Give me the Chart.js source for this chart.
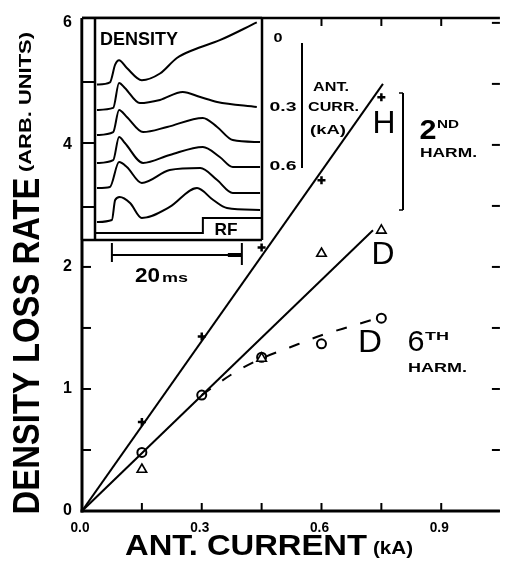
<!DOCTYPE html>
<html>
<head>
<meta charset="utf-8">
<script src="https://cdn.jsdelivr.net/npm/chart.js@4.4.0/dist/chart.umd.min.js"></script>
<style>
  html, body { margin: 0; padding: 0; background: #fff; }
  #wrap { position: relative; width: 507px; height: 567px; }
  canvas { position: absolute; left: 0; top: 0; }
</style>
</head>
<body>
<div id="wrap">
  <canvas id="main" width="507" height="567"></canvas>
  <canvas id="inset" width="507" height="567"></canvas>
</div>
<script>
// main plot: antenna current (kA) vs density loss rate (arb. units)
const currents = [0.15, 0.30, 0.45, 0.60, 0.75];
const hSecond = [0.73, 1.43, 2.16, 2.71, 3.39];     // H, 2nd harm. (+)
const dSecond = [0.34, null, 1.25, 2.11, 2.30];     // D, 2nd harm. (triangles)
const dSixth = [0.48, 0.95, 1.26, 1.37, 1.58];      // D, 6th harm. (circles)

const hFitX = [0, 0.754], hFitY = [0, 3.50];
const dFitX = [0, 0.729], dFitY = [0, 2.30];
const sixthFitX = [0.30, 0.38, 0.45, 0.52, 0.60, 0.68, 0.75];
const sixthFitY = [0.95, 1.13, 1.25, 1.34, 1.44, 1.52, 1.59];

const xTickValues = [0, 0.15, 0.30, 0.45, 0.60, 0.75, 0.90];
const xTickLabels = ['0.0', '', '0.3', '', '0.6', '', '0.9'];
const yTickValues = [0, 0.5, 1, 1.5, 2, 2.5, 3, 3.5, 4];
const yTickLabels = ['0', '', '1', '', '2', '', '4', '', '6'];

// inset: density traces [time (ms), signal] for antenna currents 0 .. 0.6 kA
const trace0 = [[0.3,70],[2.3,71],[3.1,79],[3.7,81],[4.9,77.5],[7.2,72],[10,75],[12.6,82],[15.1,85.6],[19.2,90],[24.9,98]];
const trace1 = [[0.3,58.6],[2.8,59.5],[3.7,70.7],[4.6,68.5],[6.9,61.7],[10,63.1],[13.5,66.7],[16.2,64.4],[18.8,62.2],[24.9,59.9]];
const trace2 = [[0.3,47.3],[2.8,48.6],[3.7,58.6],[4.9,55.4],[7.4,48.6],[11.1,50.9],[16.6,55],[18.8,50.9],[21.2,45],[25.4,44.1]];
const trace3 = [[0.3,34.7],[2.8,36],[3.7,46.4],[4.6,43.7],[7.4,34.7],[11.5,38.3],[16.6,41.9],[19.2,37.4],[21.2,32.9],[25.4,32.9]];
const trace4 = [[0.3,23.4],[2.3,23.9],[3.7,35.1],[4.9,32.9],[7.2,25.7],[11.5,31.5],[16.2,32.4],[18.8,27],[21.2,21.2],[25.4,21.2]];
const trace5 = [[0.3,8.1],[2.6,9],[3.1,18],[3.8,19.4],[5.4,16.7],[7.2,9.9],[11.5,14.9],[15.7,23.4],[18.2,18],[20.3,14.4],[25.4,13.5]];
const rfPulse = [[0,3.2],[16.6,3.2],[16.6,9.9],[25.7,9.9]];
const insetCurrentLabels = ['0', '0.3', '0.6'];

const FONT = '"Liberation Sans", Arial, sans-serif';

function txt(ctx, s, x, y, size, width, align, rot, weight) {
  ctx.save();
  ctx.translate(x, y);
  if (rot) ctx.rotate(rot);
  ctx.font = (weight || 'bold') + ' ' + size + 'px ' + FONT;
  const w = ctx.measureText(s).width;
  if (width) ctx.scale(width / w, 1);
  ctx.textAlign = align || 'center';
  ctx.textBaseline = 'middle';
  ctx.fillStyle = '#000';
  ctx.fillText(s, 0, 0);
  ctx.restore();
}

function line(ctx, x1, y1, x2, y2, lw) {
  ctx.lineWidth = lw;
  ctx.beginPath();
  ctx.moveTo(x1, y1);
  ctx.lineTo(x2, y2);
  ctx.stroke();
}

const pairs = (xs, ys) => xs.map((x, i) => ({ x: x, y: ys[i] }));

const mainFrame = {
  id: 'mainFrame',
  afterDraw(chart) {
    const ctx = chart.ctx, a = chart.chartArea;
    const xs = chart.scales.x, ys = chart.scales.y;
    ctx.save();
    ctx.strokeStyle = '#000';
    ctx.lineCap = 'butt';
    // frame
    line(ctx, a.left, a.top, a.left, a.bottom + 1.5, 3);
    line(ctx, a.left - 1.5, a.bottom, a.right, a.bottom, 3);
    line(ctx, a.left, a.top, a.right, a.top, 2.5);
    // inward ticks
    yTickValues.forEach((v, i) => {
      const py = ys.getPixelForValue(v);
      line(ctx, a.left, py, a.left + 9, py, 2);
      line(ctx, a.right - 8, py, a.right, py, 2);
      if (yTickLabels[i]) txt(ctx, yTickLabels[i], a.left - 10, py, 16, null, 'right');
    });
    xTickValues.forEach((v, i) => {
      const px = xs.getPixelForValue(v);
      line(ctx, px, a.bottom, px, a.bottom - 8, 2);
      line(ctx, px, a.top, px, a.top + 8, 2);
      if (xTickLabels[i]) txt(ctx, xTickLabels[i], px - 2, 528, 14, 19, 'center');
    });
    // axis titles
    txt(ctx, 'DENSITY LOSS RATE', 29, 346, 36, 337, 'center', -Math.PI / 2);
    txt(ctx, '(ARB. UNITS)', 26.5, 102, 17, 140, 'center', -Math.PI / 2);
    txt(ctx, 'ANT. CURRENT', 125, 547, 30, 242, 'left');
    txt(ctx, '(kA)', 373, 549, 19, 40, 'left');

    // series labels
    txt(ctx, 'H', 384, 124, 32, 23, 'center', 0, 'normal');
    line(ctx, 403, 93, 403, 210, 2);
    line(ctx, 399, 93, 403, 93, 1.5);
    line(ctx, 399, 210, 403, 210, 1.5);
    txt(ctx, '2', 428, 131, 28, 17, 'center');
    txt(ctx, 'ND', 437, 125, 11, 22, 'left');
    txt(ctx, 'HARM.', 420, 154, 12, 57, 'left');
    txt(ctx, 'D', 383, 255, 32, 23, 'center', 0, 'normal');
    txt(ctx, 'D', 370, 343, 32, 24, 'center', 0, 'normal');
    txt(ctx, '6', 416, 343, 30, 17, 'center', 0, 'normal');
    txt(ctx, 'TH', 425, 337, 11, 24, 'left');
    txt(ctx, 'HARM.', 408, 369, 12, 59, 'left');

    // inset current labels (right of inset)
    const ly = [38, 107, 166];
    insetCurrentLabels.forEach((s, i) => txt(ctx, s, i === 0 ? 278 : 283, ly[i], 13, i === 0 ? 9 : 27, 'center'));
    line(ctx, 302, 43, 302, 168, 2);
    txt(ctx, 'ANT.', 313, 88, 12, 36, 'left');
    txt(ctx, 'CURR.', 308, 108, 12, 51, 'left');
    txt(ctx, '(kA)', 310, 130, 13, 36, 'left');
    ctx.restore();
  }
};

new Chart(document.getElementById('main'), {
  type: 'scatter',
  data: {
    datasets: [
      { data: pairs(hFitX, hFitY), showLine: true, borderColor: '#000', borderWidth: 2, pointRadius: 0 },
      { data: pairs(dFitX, dFitY), showLine: true, borderColor: '#000', borderWidth: 2, pointRadius: 0 },
      { data: pairs(sixthFitX, sixthFitY), showLine: true, borderColor: '#000', borderWidth: 2,
        borderDash: [11, 14], pointRadius: 0, tension: 0.4, cubicInterpolationMode: 'monotone' },
      { data: pairs(currents, hSecond), pointStyle: 'cross', pointRadius: 4,
        pointBorderWidth: 2.5, borderColor: '#000' },
      { data: pairs(currents, dSecond), pointStyle: 'triangle', pointRadius: 5.5,
        pointBorderWidth: 1.6, borderColor: '#000', backgroundColor: '#fff' },
      { data: pairs(currents, dSixth), pointStyle: 'circle', pointRadius: 4.5,
        pointBorderWidth: 2, borderColor: '#000', backgroundColor: '#fff' }
    ]
  },
  options: {
    responsive: false,
    animation: false,
    events: [],
    layout: { padding: { left: 82, right: 0, top: 18, bottom: 56 } },
    plugins: { legend: { display: false }, tooltip: { enabled: false } },
    scales: {
      x: { type: 'linear', min: 0, max: 1.047, display: false },
      y: { type: 'linear', min: 0, max: 4.04, display: false }
    }
  },
  plugins: [mainFrame]
});

const insetFrame = {
  id: 'insetFrame',
  beforeDraw(chart) {
    const ctx = chart.ctx, a = chart.chartArea;
    ctx.save();
    ctx.fillStyle = '#fff';
    ctx.fillRect(a.left - 13, a.top, a.right - a.left + 13, a.bottom - a.top);
    ctx.restore();
  },
  afterDraw(chart) {
    const ctx = chart.ctx, a = chart.chartArea, xs = chart.scales.x;
    ctx.save();
    ctx.strokeStyle = '#000';
    line(ctx, a.left - 13, a.top, a.right, a.top, 2.5);
    line(ctx, a.left - 13, a.bottom, a.right, a.bottom, 2.5);
    line(ctx, a.left - 13, a.top, a.left - 13, a.bottom, 2.5);
    line(ctx, a.left, a.top, a.left, a.bottom, 2.5);
    line(ctx, a.right, a.top, a.right, a.bottom, 2.5);
    [82, 143, 207].forEach(y => line(ctx, a.left - 13, y, a.left, y, 2));
    txt(ctx, 'DENSITY', 100, 40, 18, 78, 'left');
    txt(ctx, 'RF', 226, 230, 17, 23, 'center');
    // 20 ms scale bar
    const x1 = xs.getPixelForValue(2.6), x2 = xs.getPixelForValue(22.6);
    line(ctx, x1, 243, x1, 262, 2);
    line(ctx, x2, 243, x2, 265, 2);
    line(ctx, x1, 255, x2, 255, 2);
    line(ctx, x2 - 14, 255, x2, 255, 4);
    txt(ctx, '20', 135, 276, 20, 25, 'left');
    txt(ctx, 'ms', 162, 278, 13, 26, 'left');
    ctx.restore();
  }
};

const traceSet = (pts) => ({
  data: pts.map(p => ({ x: p[0], y: p[1] })),
  showLine: true, borderColor: '#000', borderWidth: 2, pointRadius: 0,
  tension: 0.4, cubicInterpolationMode: 'monotone'
});

new Chart(document.getElementById('inset'), {
  type: 'scatter',
  data: {
    datasets: [
      traceSet(trace0), traceSet(trace1), traceSet(trace2),
      traceSet(trace3), traceSet(trace4), traceSet(trace5),
      { data: rfPulse.map(p => ({ x: p[0], y: p[1] })), showLine: true,
        borderColor: '#000', borderWidth: 2, pointRadius: 0, tension: 0 }
    ]
  },
  options: {
    responsive: false,
    animation: false,
    events: [],
    layout: { padding: { left: 95, right: 245, top: 18, bottom: 327 } },
    plugins: { legend: { display: false }, tooltip: { enabled: false } },
    scales: {
      x: { type: 'linear', min: 0, max: 25.7, display: false },
      y: { type: 'linear', min: 0, max: 100, display: false }
    }
  },
  plugins: [insetFrame]
});
</script>
</body>
</html>
